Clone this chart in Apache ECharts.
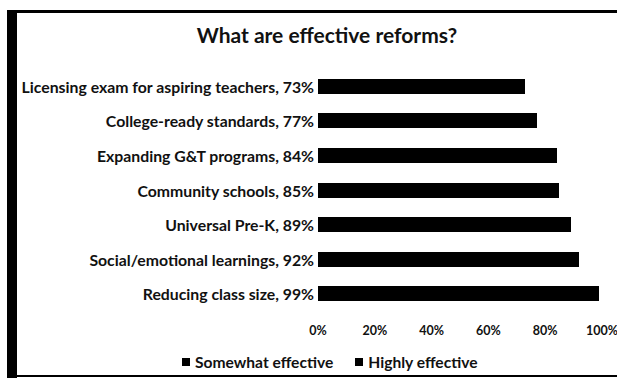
<!DOCTYPE html>
<html>
<head>
<meta charset="utf-8">
<script src="https://cdn.jsdelivr.net/npm/echarts@6/dist/echarts.min.js"></script>
<style>
html,body{margin:0;padding:0;background:#fff;}
#c{width:617px;height:381px;}
#c svg path, #c svg rect { shape-rendering: crispEdges; }
</style>
</head>
<body>
<div id="c"></div>
<script>
const categories = [
  "Licensing exam for aspiring teachers",
  "College-ready standards",
  "Expanding G&T programs",
  "Community schools",
  "Universal Pre-K",
  "Social/emotional learnings",
  "Reducing class size"
];
const totals = [73, 77, 84, 85, 89, 92, 99];
const somewhatEffective = [40, 38, 45, 42, 38, 40, 25];
const highlyEffective = [33, 39, 39, 43, 51, 52, 74];
const xTicks = [0, 20, 40, 60, 80, 100];

const labels = categories.map((c, i) => c + ", " + totals[i] + "%");
const FONT = "Lato";

const chart = echarts.init(document.getElementById('c'), null, {renderer: 'svg'});
chart.setOption({
  backgroundColor: '#fff',
  animation: false,
  title: {
    text: 'What are effective reforms?',
    left: 322, top: 19, textAlign: 'center',
    textStyle: {fontFamily: FONT, fontSize: 21, fontWeight: 'bold', color: '#111'}
  },
  grid: {left: 318, right: 15, top: 69, bottom: 70, containLabel: false, outerBoundsMode: 'none'},
  xAxis: {
    type: 'value', min: xTicks[0], max: xTicks[xTicks.length - 1], interval: 20,
    axisLine: {show: false}, axisTick: {show: false}, splitLine: {show: false},
    axisLabel: {formatter: '{value}%', color: '#111', fontFamily: FONT, fontSize: 12.5, fontWeight: 'bold', margin: 13, hideOverlap: false}
  },
  yAxis: {
    type: 'category', data: labels, inverse: true,
    axisLine: {show: false}, axisTick: {show: false},
    axisLabel: {color: '#111', fontFamily: FONT, fontSize: 15.8, fontWeight: 'bold', margin: 4, padding: [0, 0, 4, 0]}
  },
  legend: {
    left: 177, top: 349, itemWidth: 8, itemHeight: 8, icon: 'rect', itemGap: 22,
    textStyle: {fontFamily: FONT, fontSize: 15.6, fontWeight: 'bold', color: '#111'},
    data: ['Somewhat effective', 'Highly effective']
  },
  series: [
    {name: 'Somewhat effective', type: 'bar', stack: 'total', data: somewhatEffective, barWidth: 15, itemStyle: {color: '#000'}},
    {name: 'Highly effective', type: 'bar', stack: 'total', data: highlyEffective, barWidth: 15, itemStyle: {color: '#000'}}
  ],
  graphic: [
    {type: 'rect', shape: {x: 7, y: 10, width: 10, height: 368}, style: {fill: '#000'}},
    {type: 'rect', shape: {x: 7, y: 10, width: 610, height: 3}, style: {fill: '#000'}},
    {type: 'rect', shape: {x: 7, y: 375, width: 610, height: 2}, style: {fill: '#000'}}
  ]
});
</script>
</body>
</html>
